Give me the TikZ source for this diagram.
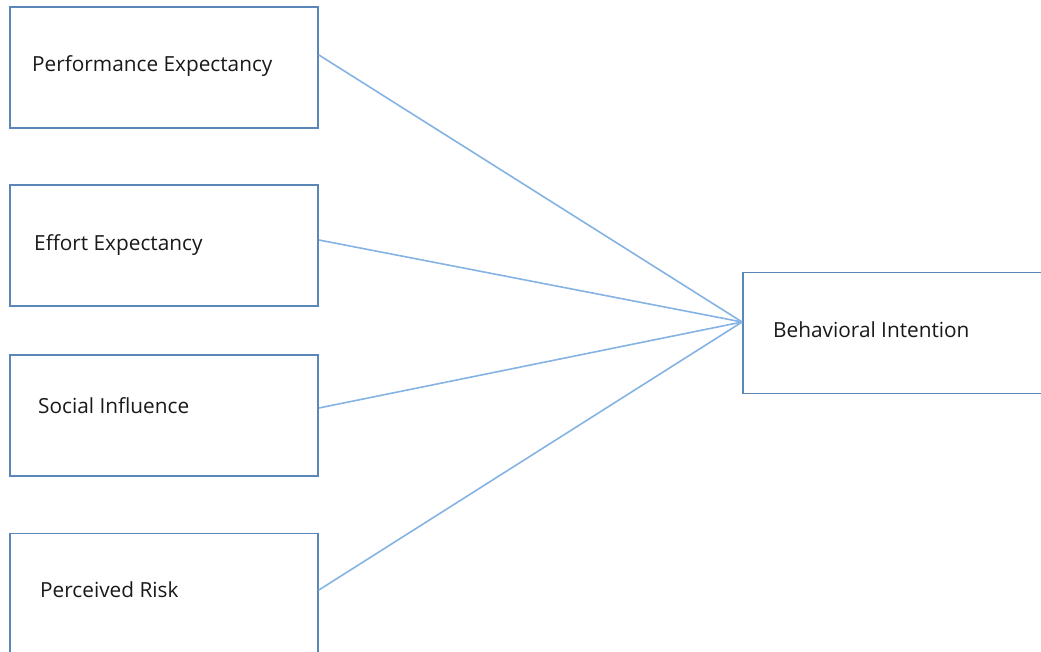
\documentclass[tikz,border=0pt]{standalone}
\usepackage{fontspec}
\setmainfont{Open Sans}
\begin{document}
\begin{tikzpicture}[x=1pt,y=-1pt,
  box/.style={draw=boxblue, line width=1.8pt, minimum width=308pt, minimum height=121pt, inner sep=0pt},
  lbl/.style={anchor=base west, inner sep=0pt, text=black!90, font=\fontsize{20.8}{24}\selectfont},
  conn/.style={draw=lineblue, line width=1.6pt}]
\definecolor{boxblue}{HTML}{5B87B8}
\definecolor{lineblue}{HTML}{85B3E4}
\useasboundingbox (0,0) rectangle (1041,652);
\clip (0,0) rectangle (1041,652);
\fill[white] (0,0) rectangle (1041,652);
\node[box] (b1) at (164,67.5) {};
\node[box] (b2) at (164,245.5) {};
\node[box] (b3) at (164,415.5) {};
\node[box] (b4) at (164,594) {};
\node[box] (bi) at (897,333) {};
\node[lbl] (t1) at (32,72) {Performance Expectancy};
\node[lbl] (t2) at (34,251) {Effort Expectancy};
\node[lbl] (t3) at (38,413) {Social Influence};
\node[lbl] (t4) at (40,597) {Perceived Risk};
\node[lbl] (t5) at (773,337) {Behavioral Intention};
\coordinate (hub) at ([yshift=11pt]bi.west);
\draw[conn] ([yshift=12.5pt]b1.east) -- (hub);
\draw[conn] ([yshift=5.5pt]b2.east) -- (hub);
\draw[conn] ([yshift=7.5pt]b3.east) -- (hub);
\draw[conn] ([yshift=4pt]b4.east) -- (hub);
\end{tikzpicture}
\end{document}
